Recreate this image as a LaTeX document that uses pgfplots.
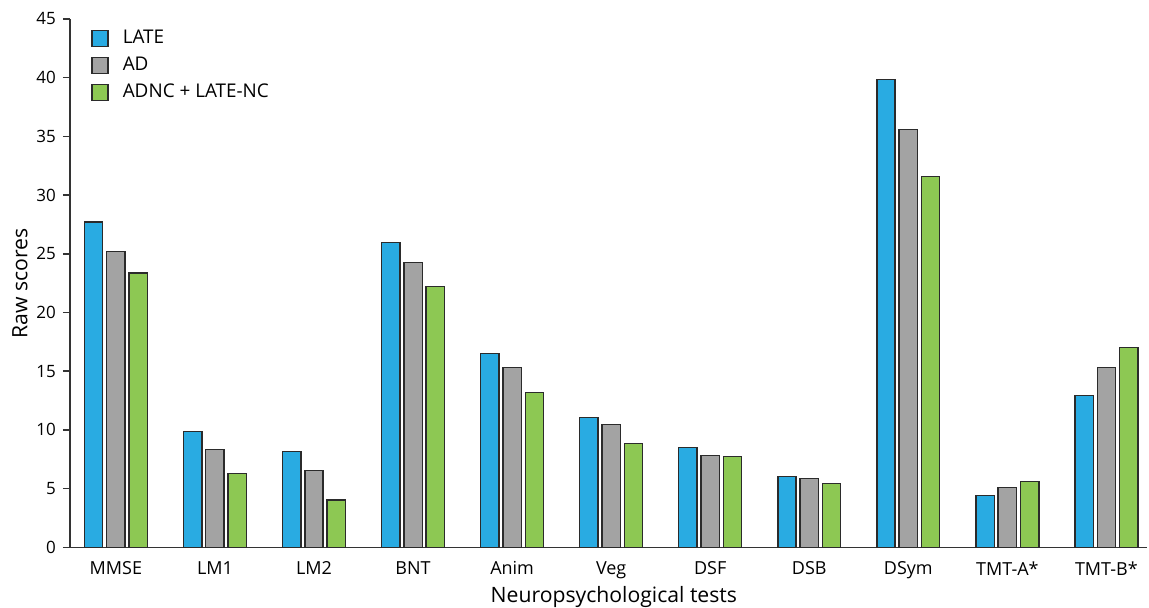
\documentclass[border=0pt]{standalone}
\usepackage{fontspec}
\setmainfont{Open Sans}
\usepackage{pgfplots}
\pgfplotsset{compat=1.18}
\definecolor{cLATE}{HTML}{29ABE2}
\definecolor{cAD}{HTML}{A3A3A3}
\definecolor{cMIX}{HTML}{8DC853}
\definecolor{edge}{HTML}{2B2B2B}
\begin{document}
\begin{tikzpicture}
\begin{axis}[
  scale only axis, width=539pt, height=264.4pt,
  xmin=-0.464, xmax=10.41, ymin=0, ymax=45,
  axis x line=bottom, axis y line=left,
  axis line style={-, line width=0.8pt, color=black!80},
  ytick={0,5,...,45},
  xtick={0,...,10},
  xticklabels={MMSE,LM1,LM2,BNT,Anim,Veg,DSF,DSB,DSym,TMT-A*,TMT-B*},
  x tick style={draw=none},
  y tick style={line width=0.8pt, color=black!80},
  tick align=outside, major tick length=3.5pt,
  /pgf/number format/assume math mode=true,
  yticklabel style={font=\fontsize{8.5}{10}\selectfont},
  xticklabel style={font=\fontsize{9}{11}\selectfont},
  ylabel={Raw scores},
  xlabel={Neuropsychological tests},
  label style={font=\fontsize{10.6}{12}\selectfont},
  ylabel style={at={(axis description cs:-0.0464,0.5)}, anchor=center},
  xlabel style={at={(axis description cs:0.505,0)}, yshift=-25pt, anchor=center},
  legend cell align=left,
  legend style={draw=none, fill=none, at={(axis description cs:0.014,0.995)}, anchor=north west,
    font=\fontsize{9.45}{11}\selectfont, row sep=1.3pt,
    /tikz/every odd column/.append style={column sep=5pt}},
  legend image code/.code={\draw[#1] (0pt,-4pt) rectangle (8pt,4pt);},
]
\addplot[ybar, bar width=0.185, bar shift=-0.225, fill=cLATE, draw=edge, line width=0.7pt]
 coordinates {(0,27.7) (1,9.87) (2,8.17) (3,25.96) (4,16.5) (5,11.06) (6,8.51) (7,6.04) (8,39.83) (9,4.43) (10,12.94)};
\addlegendentry{LATE}
\addplot[ybar, bar width=0.185, bar shift=0, fill=cAD, draw=edge, line width=0.7pt]
 coordinates {(0,25.17) (1,8.34) (2,6.55) (3,24.26) (4,15.3) (5,10.47) (6,7.83) (7,5.87) (8,35.6) (9,5.1) (10,15.32)};
\addlegendentry{AD}
\addplot[ybar, bar width=0.185, bar shift=0.225, fill=cMIX, draw=edge, line width=0.7pt]
 coordinates {(0,23.38) (1,6.3) (2,4.03) (3,22.2) (4,13.2) (5,8.85) (6,7.74) (7,5.45) (8,31.6) (9,5.59) (10,17.02)};
\addlegendentry{ADNC + LATE-NC}
\end{axis}
\path (current axis.south west) ++(-35pt,-30pt) coordinate (bl);
\path (current axis.north east) ++(1pt,9.5pt) coordinate (tr);
\pgfresetboundingbox
\path (bl) rectangle (tr);
\end{tikzpicture}
\end{document}
